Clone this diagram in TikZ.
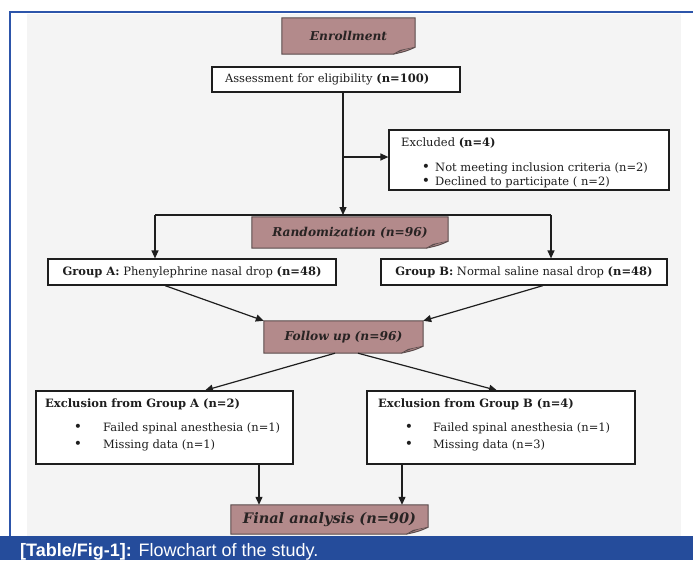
\documentclass[tikz,border=0pt]{standalone}
\usepackage{fontspec}
\setmainfont{DejaVu Serif}
\newfontfamily\capfont{Liberation Sans}
\usetikzlibrary{arrows.meta}
\pgfdeclarelayer{back}
\pgfdeclarelayer{bg}
\pgfsetlayers{back,bg,main}

\definecolor{pinkc}{RGB}{179,138,139}
\definecolor{pinkl}{RGB}{216,190,191}
\definecolor{pinkb}{RGB}{90,75,75}
\definecolor{linec}{RGB}{30,30,30}
\definecolor{bgc}{RGB}{244,244,244}
\definecolor{bandc}{RGB}{37,76,155}
\definecolor{framec}{RGB}{45,85,170}
\definecolor{titlec}{RGB}{40,35,35}

\newcommand\foldbox[1]{%
\begin{pgfonlayer}{bg}
\filldraw[fill=pinkc, draw=pinkb, line width=1pt] (#1.north west) -- (#1.north east) -- ([yshift=7pt]#1.south east) .. controls ([xshift=-9pt,yshift=3pt]#1.south east) .. ([xshift=-22pt]#1.south east) -- (#1.south west) -- cycle;
\filldraw[fill=pinkl, draw=pinkb, line width=0.5pt] ([xshift=-22pt]#1.south east) .. controls ([xshift=-11pt,yshift=5pt]#1.south east) .. ([yshift=7pt]#1.south east) -- ([xshift=-15pt,yshift=4pt]#1.south east) -- cycle;
\end{pgfonlayer}}

\tikzset{
  box/.style={draw=linec, fill=white, line width=1.2pt, inner sep=0pt, text=linec, font=\fontsize{11.5}{13}\selectfont},
  pink/.style={inner sep=0pt, text=titlec, font=\fontsize{12.2}{14}\selectfont\bfseries\itshape},
  txt/.style={inner sep=0pt, anchor=west, text=linec, font=\fontsize{11.5}{13}\selectfont},
  bul/.style={inner sep=0pt, text=linec, font=\fontsize{14}{14}\selectfont},
  arr/.style={draw=linec, line width=1.2pt, -{Triangle[length=8pt,width=7pt]}},
  ln/.style={draw=linec, line width=1.2pt},
}

\begin{document}
\begin{tikzpicture}[x=1pt,y=-1pt]
\useasboundingbox (0,0) rectangle (693,560);
% background and frame
\begin{pgfonlayer}{back}
\fill[white] (0,0) rectangle (693,560);
\fill[bgc] (27,14) rectangle (681,536);
\draw[framec, line width=2pt] (10,536) -- (10,12) -- (693,12);
\fill[bandc] (0,536) rectangle (693,560);
\end{pgfonlayer}
\node[anchor=base west, inner sep=0pt, text=white, font=\capfont\fontsize{18}{18}\selectfont] (cap) at (20,556) {\textbf{[Table/Fig-1]:} Flowchart of the study.};

% pink title boxes
\node[pink, minimum width=133pt, minimum height=36pt] (enr) at (348.5,36) {Enrollment};
\foldbox{enr}
\node[pink, minimum width=196pt, minimum height=31pt] (rnd) at (350,232.5) {Randomization (n=96)};
\foldbox{rnd}
\node[pink, minimum width=159pt, minimum height=32pt] (fu) at (343.5,337) {Follow up (n=96)};
\foldbox{fu}
\node[pink, minimum width=197pt, minimum height=29pt, font=\fontsize{14.5}{16}\selectfont\bfseries\itshape] (fin) at (329.5,519.5) {Final analysis (n=90)};
\foldbox{fin}

% white boxes
\node[box, minimum width=248pt, minimum height=25pt, text width=222pt, align=left, inner xsep=13pt] (assess) at (336,79.5) {Assessment for eligibility \textbf{(n=100)}};

\node[box, minimum width=280pt, minimum height=60pt] (excl) at (529,160) {};
\node[txt] (exclt) at (401,143) {Excluded \textbf{(n=4)}};
\node[bul] (exclb1) at (426,168) {\textbullet};
\node[bul] (exclb2) at (426,182) {\textbullet};
\node[txt] (excli1) at (435,168) {Not meeting inclusion criteria (n=2)};
\node[txt] (excli2) at (435,182) {Declined to participate ( n=2)};

\node[box, minimum width=288pt, minimum height=26pt] (ga) at (192,272) {\textbf{Group A:} Phenylephrine nasal drop \textbf{(n=48)}};
\node[box, minimum width=286pt, minimum height=26pt] (gb) at (524,272) {\textbf{Group B:} Normal saline nasal drop \textbf{(n=48)}};

\node[box, minimum width=257pt, minimum height=73pt] (exa) at (164.5,427.5) {};
\node[txt] (exat) at (45,404) {\textbf{Exclusion from Group A (n=2)}};
\node[bul] (exab1) at (78,428) {\textbullet};
\node[bul] (exab2) at (78,445) {\textbullet};
\node[txt] (exai1) at (103,428) {Failed spinal anesthesia (n=1)};
\node[txt] (exai2) at (103,445) {Missing data (n=1)};

\node[box, minimum width=268pt, minimum height=73pt] (exb) at (501,427.5) {};
\node[txt] (exbt) at (378,404) {\textbf{Exclusion from Group B (n=4)}};
\node[bul] (exbb1) at (409,428) {\textbullet};
\node[bul] (exbb2) at (409,445) {\textbullet};
\node[txt] (exbi1) at (433,428) {Failed spinal anesthesia (n=1)};
\node[txt] (exbi2) at (433,445) {Missing data (n=3)};

% connectors
\coordinate (split) at (343,157);
\coordinate (la) at (155,215);
\coordinate (lb) at (551,215);
\draw[arr] (assess.south -| split) -- (split |- la);
\draw[arr] (split) -- (split -| excl.west);
\draw[ln] (la) -- (lb);
\draw[arr] (la) -- (la |- ga.north);
\draw[arr] (lb) -- (lb |- gb.north);

\draw[arr] ([xshift=-27pt]ga.south) -- (fu.north west);
\draw[arr] ([xshift=19pt]gb.south) -- (fu.north east);
\draw[arr] ([xshift=-8.5pt]fu.south) -- ([xshift=40.5pt]exa.north);
\draw[arr] ([xshift=14.5pt]fu.south) -- ([xshift=-4pt]exb.north);

\coordinate (da) at ([xshift=-70.5pt]fin.north);
\coordinate (db) at ([xshift=72.5pt]fin.north);
\draw[arr] (exa.south -| da) -- (da);
\draw[arr] (exb.south -| db) -- (db);
\end{tikzpicture}
\end{document}
